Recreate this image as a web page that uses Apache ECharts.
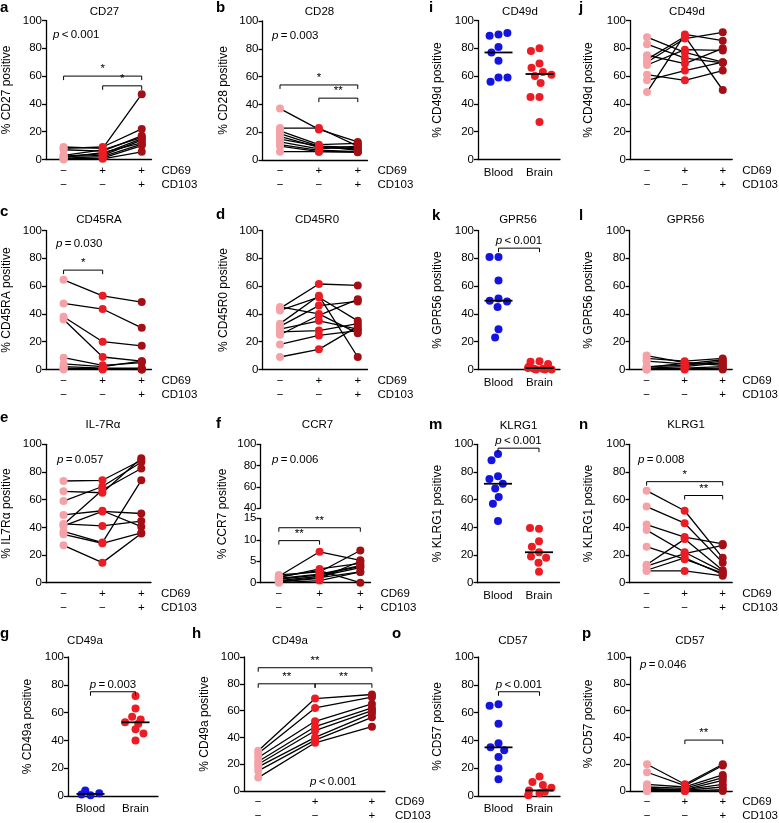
<!DOCTYPE html>
<html><head><meta charset="utf-8">
<script src="https://cdn.jsdelivr.net/npm/echarts@6/dist/echarts.min.js"></script>
<style>html,body{margin:0;padding:0;background:#fff}#c{width:779px;height:823px}</style>
</head><body><div id="c"></div>
<script>
// ---------- categories / tick labels ----------
const CD69_SIGNS = ['\u2212', '+', '+'];
const CD103_SIGNS = ['\u2212', '\u2212', '+'];
const TISSUES = ['Blood', 'Brain'];
const PAIR_X = [1, 2, 3];

// ---------- data (per donor: CD69-CD103-, CD69+CD103-, CD69+CD103+) ----------
const a_neg = [9, 8, 7, 3, 2.5, 2, 1.5, 1, 0.5, 0];
const a_pos = [8, 9, 6, 7, 4, 3, 5, 2, 1, 0.5];
const a_dbl = [47, 22, 17, 16, 15, 14, 12, 11, 10, 5.5];

const b_neg = [37, 23, 21, 19, 17, 15, 13, 11, 10, 6];
const b_pos = [22, 23, 11, 10, 9, 10, 8, 7, 6, 6];
const b_dbl = [13, 10, 12, 9, 8, 7, 10, 6, 5.5, 6];

const c_neg = [64.5, 47.5, 38, 36, 8.5, 4, 2, 1, 0.5, 0];
const c_pos = [53, 43.5, 20, 9, 3, 2, 1, 0.5, 0, 0.5];
const c_dbl = [48.5, 30, 17, 6, 5, 6, 1, 0.5, 0, 0];

const d_neg = [44, 45, 42.5, 33, 31, 29, 27, 25, 18, 9];
const d_pos = [61.5, 40, 52, 53, 46, 35, 28, 39, 24.5, 14.5];
const d_dbl = [60.5, 26, 35, 9, 49, 29, 33, 50.5, 28, 31];

const e_neg = [73.5, 66, 59, 49, 42.5, 42, 41, 37, 35, 27];
const e_pos = [74, 65, 69.5, 52, 41, 67, 51.5, 29, 28.5, 14.5];
const e_dbl = [88.5, 90, 87, 40.5, 44.5, 82.5, 50, 74, 36, 35.5];

const f_neg = [1.5, 1.8, 1.2, 1, 0.8, 0.5, 0.3, 0.2, 0, 1.4];
const f_pos = [7.2, 2.5, 3.2, 2, 1.8, 1.5, 1.2, 1, 0.5, 2.8];
const f_dbl = [5.2, 7.5, 4.5, 4, 3.8, 3.5, 2.5, 5, 2.5, 0];

const h_neg = [30, 28, 25, 22, 20, 18, 15, 10];
const h_pos = [69, 62, 52, 48, 45, 40, 38, 36];
const h_dbl = [72, 70, 65, 62, 60, 58, 55, 48];

const j_neg = [88, 83, 75, 72, 70, 68, 61, 57, 48.5];
const j_pos = [77, 73, 69, 88.5, 87, 79, 57, 64, 90];
const j_dbl = [70, 69.5, 80, 50, 91.5, 78.5, 64, 70, 85.5];

const l_neg = [10, 8, 6, 2, 1, 0.5, 0, 0, 1.5];
const l_pos = [5, 6, 4, 3, 2, 1, 0.5, 0, 4.5];
const l_dbl = [3, 8, 7, 6, 5, 2, 1, 0, 4];

const n_neg = [66.5, 55, 42, 38, 26, 13, 12, 9, 8.5];
const n_pos = [52, 43, 33, 22, 17, 31.5, 21, 18, 8.5];
const n_dbl = [18, 14.5, 28, 8, 7, 9, 27, 6, 5];

const p_neg = [20, 14, 5, 3, 2, 1, 0.5, 0, 0];
const p_pos = [5, 4, 3, 2, 1, 1, 0.5, 0, 0];
const p_dbl = [20, 19, 12, 10, 8, 5, 3, 1, 0];

// ---------- data (Blood vs Brain) ----------
const g_blood = [0.5, 1, 2, 4];
const g_brain = [72, 63, 57, 55, 53, 52, 48, 45, 40];
const g_median = [1.5, 53];

const i_blood = [90, 89, 91, 81, 77, 71, 59, 56, 59];
const i_brain = [80, 78, 69, 66, 63, 61, 60, 55, 45, 45, 27];
const i_median = [77, 61.5];

const k_blood = [81, 81, 64, 51, 49.5, 49, 45, 29, 23];
const k_brain = [6, 5.5, 4, 2, 1, 0.5, 0.5, 0, 0, 0];
const k_median = [49.5, 1];

const m_blood = [93, 88.5, 77, 75, 71.5, 68, 62, 57, 44.5];
const m_brain = [39, 39.5, 30, 26, 22, 19, 18, 14.5, 8];
const m_median = [71.5, 22];

const o_blood = [66, 65, 52, 38, 35, 33, 28, 20, 12];
const o_brain = [14, 10, 8, 6, 4, 3, 2, 1, 0.5];
const o_median = [35, 4];

// ---------- style ----------
const FONT = 'Liberation Sans, Arial, Helvetica, sans-serif';
const C_NEG = '#f4a2a8', C_POS = '#ec1c24', C_DBL = '#a40f16', C_BLOOD = '#1414e0', C_BRAIN = '#ec1c24';
const FS = 11.5;

const option = { animation: false, backgroundColor: '#fff', grid: [], xAxis: [], yAxis: [], series: [], graphic: [] };

function txt(text, x, y, o) {
  option.graphic.push({ type: 'text', x: x, y: y, z: 100, silent: true,
    style: Object.assign({ text: text, fill: '#000', fontFamily: FONT, fontSize: FS,
      align: 'center', verticalAlign: 'middle', textAlign: 'center', textVerticalAlign: 'middle',
      rich: { i: { fontStyle: 'italic', fontFamily: FONT, fontSize: FS, fill: '#000' } } }, o || {}) });
}
function letter(t, x, y) { txt(t, x, y, { fontSize: 15, fontWeight: 'bold', align: 'left', textAlign: 'left' }); }

function yAx(gi, name, min, max, interval, nameGap) {
  return { gridIndex: gi, type: 'value', min: min, max: max, interval: interval,
    name: name, nameLocation: 'middle', nameGap: nameGap, nameRotate: 90,
    nameTextStyle: { fontFamily: FONT, fontSize: 12, color: '#000' },
    axisLine: { show: true, lineStyle: { color: '#000', width: 1.3 } },
    axisTick: { show: true, length: 4, lineStyle: { color: '#000', width: 1.3 } },
    axisLabel: { fontFamily: FONT, fontSize: FS, color: '#000', margin: 4 },
    splitLine: { show: false } };
}

function bracketSeries(xi, yi, list, labels, fontSize) {
  return { type: 'custom', xAxisIndex: xi, yAxisIndex: yi, z: 5, silent: true,
    data: list.map(b => [b[0], b[1], b[2]]),
    encode: { x: [0, 1], y: 2 },
    renderItem: function (params, api) {
      const p1 = api.coord([api.value(0), api.value(2)]);
      const p2 = api.coord([api.value(1), api.value(2)]);
      const t = 4;
      const lab = labels[params.dataIndex];
      return { type: 'group', children: [
        { type: 'polyline', shape: { points: [[p1[0], p1[1] + t], [p1[0], p1[1]], [p2[0], p2[1]], [p2[0], p2[1] + t]] },
          style: { stroke: '#000', lineWidth: 1, fill: null } },
        { type: 'text', x: (p1[0] + p2[0]) / 2, y: p1[1] - 1,
          style: { text: lab, fill: '#000', fontFamily: FONT, fontSize: fontSize || FS,
            align: 'center', verticalAlign: 'bottom', textAlign: 'center', textVerticalAlign: 'bottom',
            rich: { i: { fontStyle: 'italic', fontFamily: FONT, fontSize: FS, fill: '#000' } } } }
      ] };
    } };
}

function paired(cfg) {
  const gi = option.grid.length;
  option.grid.push({ left: cfg.left, top: cfg.top, width: cfg.width, height: cfg.height });
  option.xAxis.push({ gridIndex: gi, type: 'value', min: cfg.xmin || 0.55, max: cfg.xmax || 3.25,
    axisLine: { show: true, lineStyle: { color: '#000', width: 1.3 } },
    axisTick: { show: false }, splitLine: { show: false },
    axisLabel: { customValues: PAIR_X, fontFamily: FONT, fontSize: FS, color: '#000', margin: 4, lineHeight: 14,
      formatter: v => CD69_SIGNS[Math.round(v) - 1] + '\n' + CD103_SIGNS[Math.round(v) - 1] },
    name: 'CD69\nCD103', nameLocation: 'end', nameGap: cfg.nameGapX || 10,
    nameTextStyle: { fontFamily: FONT, fontSize: FS, color: '#000', align: 'left', verticalAlign: 'top', lineHeight: 14, padding: [4, 0, 0, 0] } });
  option.yAxis.push(yAx(gi, cfg.yName, cfg.min || 0, cfg.max || 100, cfg.interval || 20, cfg.yGap || 33));
  for (let k = 0; k < cfg.neg.length; k++) {
    option.series.push({ type: 'line', xAxisIndex: gi, yAxisIndex: gi, symbol: 'none', silent: true, z: 2,
      lineStyle: { color: '#000', width: 1.3 },
      data: [[PAIR_X[0], cfg.neg[k]], [PAIR_X[1], cfg.pos[k]], [PAIR_X[2], cfg.dbl[k]]] });
  }
  [[cfg.neg, C_NEG, 0], [cfg.pos, C_POS, 1], [cfg.dbl, C_DBL, 2]].forEach(g => {
    option.series.push({ type: 'scatter', xAxisIndex: gi, yAxisIndex: gi, symbolSize: 8, z: 3, silent: true,
      itemStyle: { color: g[1], opacity: 1 }, data: g[0].map(v => [PAIR_X[g[2]], v]) });
  });
  if (cfg.brackets) option.series.push(bracketSeries(gi, gi, cfg.brackets, cfg.labels));
  return gi;
}

function swarm(cfg) {
  const gi = option.grid.length;
  option.grid.push({ left: cfg.left, top: cfg.top, width: cfg.width, height: cfg.height });
  option.xAxis.push({ gridIndex: gi, type: 'category', data: TISSUES, boundaryGap: true,
    jitter: 26, jitterOverlap: false, jitterMargin: 1,
    axisLine: { show: true, lineStyle: { color: '#000', width: 1.3 } },
    axisTick: { show: false }, splitLine: { show: false },
    axisLabel: { fontFamily: FONT, fontSize: FS, color: '#000', margin: 7 } });
  option.yAxis.push(yAx(gi, cfg.yName, 0, 100, 20, cfg.yGap || 34));
  [[cfg.blood, C_BLOOD, 0], [cfg.brain, C_BRAIN, 1]].forEach(g => {
    option.series.push({ type: 'scatter', xAxisIndex: gi, yAxisIndex: gi, symbolSize: 8, z: 3, silent: true,
      itemStyle: { color: g[1], opacity: 1 }, data: g[0].map(v => [g[2], v]) });
  });
  option.series.push({ type: 'custom', xAxisIndex: gi, yAxisIndex: gi, z: 4, silent: true,
    data: cfg.median.map((m, i) => [i, m]),
    renderItem: function (params, api) {
      const p = api.coord([api.value(0), api.value(1)]);
      return { type: 'line', shape: { x1: p[0] - 14, y1: p[1], x2: p[0] + 14, y2: p[1] }, style: { stroke: '#000', lineWidth: 1.8 } };
    } });
  if (cfg.brackets) option.series.push(bracketSeries(gi, gi, cfg.brackets, cfg.labels));
  return gi;
}

// ---------- row 1 ----------
paired({ left: 45.5, top: 20.5, width: 106, height: 139, neg: a_neg, pos: a_pos, dbl: a_dbl, yName: '% CD27 positive',
  brackets: [[1, 3, 60], [2, 3, 53]], labels: ['*', '*'] });
paired({ left: 262.5, top: 21, width: 105, height: 139, neg: b_neg, pos: b_pos, dbl: b_dbl, yName: '% CD28 positive',
  brackets: [[1, 3, 54], [2, 3, 44.5]], labels: ['*', '**'] });
swarm({ left: 478, top: 20.5, width: 82, height: 139, blood: i_blood, brain: i_brain, median: i_median, yName: '% CD49d positive' });
paired({ left: 630, top: 20.5, width: 104, height: 139, neg: j_neg, pos: j_pos, dbl: j_dbl, yName: '% CD49d positive', yGap: 35 });

// ---------- row 2 ----------
paired({ left: 45.5, top: 230.5, width: 106, height: 139, neg: c_neg, pos: c_pos, dbl: c_dbl, yName: '% CD45RA positive',
  brackets: [[1, 2, 71.5]], labels: ['*'] });
paired({ left: 262.5, top: 230.5, width: 105, height: 139, neg: d_neg, pos: d_pos, dbl: d_dbl, yName: '% CD45R0 positive' });
swarm({ left: 478, top: 230.5, width: 82, height: 139, blood: k_blood, brain: k_brain, median: k_median, yName: '% GPR56 positive',
  brackets: [[0, 1, 87.3]], labels: ['{i|p}\u2009<\u20090.001'] });
paired({ left: 629.5, top: 230.5, width: 104, height: 139, neg: l_neg, pos: l_pos, dbl: l_dbl, yName: '% GPR56 positive', yGap: 35 });

// ---------- row 3 ----------
paired({ left: 45, top: 444.3, width: 106, height: 138.4, neg: e_neg, pos: e_pos, dbl: e_dbl, yName: '% IL7R\u03b1 positive' });
(function () {
  const gu = option.grid.length;
  option.grid.push({ left: 260.5, top: 444.3, width: 110, height: 64 });
  option.xAxis.push({ gridIndex: gu, type: 'value', min: 0.55, max: 3.25, show: false });
  option.yAxis.push(yAx(gu, '', 40, 100, 20, 30));
  option.series.push({ type: 'line', xAxisIndex: gu, yAxisIndex: gu, data: [], silent: true });
  paired({ left: 260.5, top: 518.3, width: 110, height: 64.4, neg: f_neg, pos: f_pos, dbl: f_dbl, yName: '',
    min: 0, max: 15, interval: 5, brackets: [[1, 3, 12.8], [1, 2, 9.8]], labels: ['**', '**'] });
  txt('% CCR7 positive', 223, 514, { fontSize: 12 });
  option.graphic[option.graphic.length - 1].rotation = Math.PI / 2;
})();
swarm({ left: 477.5, top: 444.3, width: 82, height: 138.4, blood: m_blood, brain: m_brain, median: m_median, yName: '% KLRG1 positive',
  brackets: [[0, 1, 97.2]], labels: ['{i|p}\u2009<\u20090.001'] });
paired({ left: 629.5, top: 444.3, width: 104, height: 138.4, neg: n_neg, pos: n_pos, dbl: n_dbl, yName: '% KLRG1 positive', yGap: 35,
  brackets: [[1, 3, 73], [2, 3, 63]], labels: ['*', '**'] });

// ---------- row 4 ----------
swarm({ left: 68, top: 657, width: 90, height: 139, blood: g_blood, brain: g_brain, median: g_median, yName: '% CD49a positive',
  brackets: [[0, 1, 75]], labels: ['{i|p}\u2009=\u20090.003'] });
paired({ left: 244, top: 657, width: 141, height: 139, neg: h_neg, pos: h_pos, dbl: h_dbl, yName: '% CD49a positive', xmin: 0.75, xmax: 3.23,
  brackets: [[1, 2, 80], [2, 3, 80], [1, 3, 92]], labels: ['**', '**', '**'] });
swarm({ left: 478, top: 657, width: 82, height: 139, blood: o_blood, brain: o_brain, median: o_median, yName: '% CD57 positive',
  brackets: [[0, 1, 75]], labels: ['{i|p}\u2009<\u20090.001'] });
paired({ left: 630, top: 657, width: 104, height: 139, neg: p_neg, pos: p_pos, dbl: p_dbl, yName: '% CD57 positive', yGap: 35,
  brackets: [[2, 3, 38]], labels: ['**'] });

// ---------- titles ----------
txt('CD27', 104.5, 12); txt('CD28', 319.5, 12); txt('CD49d', 520, 12); txt('CD49d', 687, 12);
txt('CD45RA', 99, 220); txt('CD45R0', 317, 220); txt('GPR56', 518, 220); txt('GPR56', 685.5, 220);
txt('IL-7R\u03b1', 103, 425); txt('CCR7', 317.5, 425); txt('KLRG1', 518.5, 425.5); txt('KLRG1', 686, 425);
txt('CD49a', 85, 641); txt('CD49a', 290, 641); txt('CD57', 513, 641); txt('CD57', 690, 641);

// ---------- panel letters ----------
letter('a', 0, 8); letter('b', 216, 8); letter('i', 429, 8); letter('j', 579, 8);
letter('c', 0, 212); letter('d', 216, 215); letter('k', 432, 216); letter('l', 579, 216);
letter('e', 0, 418); letter('f', 216, 424); letter('m', 429, 425); letter('n', 579, 425);
letter('g', 0, 634); letter('h', 192, 634); letter('o', 392, 634); letter('p', 582, 634);

// ---------- p-values ----------
const PL = { align: 'left', textAlign: 'left' };
txt('{i|p}\u2009<\u20090.001', 53, 35, PL);
txt('{i|p}\u2009=\u20090.003', 272, 36, PL);
txt('{i|p}\u2009=\u20090.030', 56, 244, PL);
txt('{i|p}\u2009=\u20090.057', 57, 460, PL);
txt('{i|p}\u2009=\u20090.006', 272, 460, PL);
txt('{i|p}\u2009=\u20090.008', 638, 460, PL);
txt('{i|p}\u2009=\u20090.046', 640, 665, PL);
txt('{i|p}\u2009<\u20090.001', 310, 782, PL);

const chart = echarts.init(document.getElementById('c'), null, { renderer: 'canvas' });
chart.setOption(option);
</script>
</body></html>
